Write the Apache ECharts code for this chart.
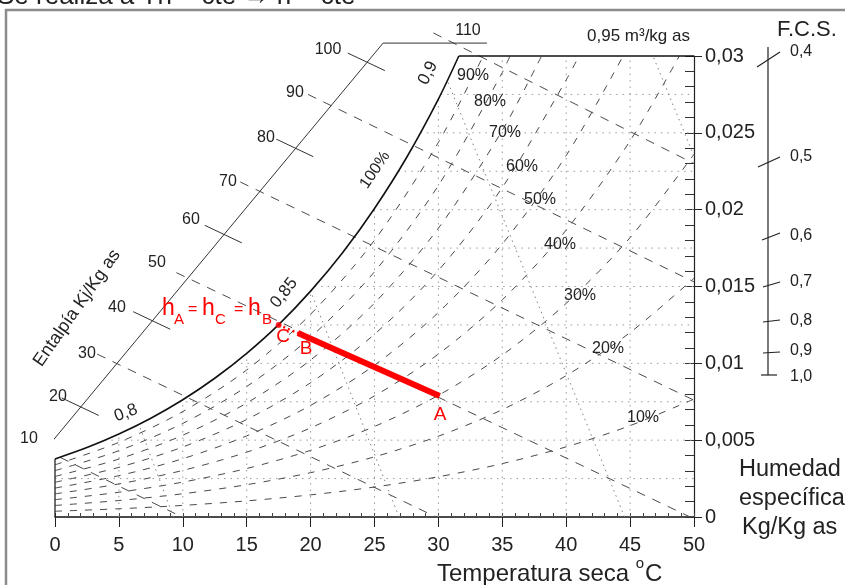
<!DOCTYPE html>
<html><head><meta charset="utf-8">
<script src="https://cdn.jsdelivr.net/npm/echarts/dist/echarts.min.js"></script>
<style>html,body{margin:0;padding:0;background:#fff;overflow:hidden}#c{width:845px;height:585px;}</style>
</head><body><div id="c"></div>
<script>
const FONT = '"Liberation Sans", Arial, Helvetica, sans-serif';

// ---- axes ----
const tempMin = 0, tempMax = 50;
const humMin = 0, humMax = 0.03;

// ---- saturation curve (100 %) ----
const satT = [0, 2.5, 5, 7.5, 10, 12.5, 15, 17.5, 20, 22.5, 25, 27.5, 30, 31.6];
const satW = [0.00378, 0.00452, 0.00540, 0.00643, 0.00763, 0.00903, 0.01065, 0.01252, 0.01470, 0.01720, 0.02008, 0.02338, 0.02720, 0.0300];

// ---- relative humidity curves, sampled every 5 °C ----
const rhT = [0, 5, 10, 15, 20, 25, 30, 35, 40, 45, 50];
const rh10 = [0.000375, 0.000536, 0.000755, 0.001049, 0.001439, 0.001951, 0.002617, 0.003474, 0.004566, 0.005945, 0.007674];
const rh20 = [0.000751, 0.001073, 0.001512, 0.002101, 0.002885, 0.003915, 0.005257, 0.006987, 0.009200, 0.012005, 0.015540];
const rh30 = [0.001128, 0.001611, 0.002270, 0.003157, 0.004338, 0.005891, 0.007919, 0.010540, 0.013902, 0.018183, 0.023605];
const rh40 = [0.001505, 0.002150, 0.003031, 0.004217, 0.005797, 0.007880, 0.010604, 0.014133, 0.018675, 0.024482];
const rh50 = [0.001882, 0.002690, 0.003793, 0.005280, 0.007263, 0.009881, 0.013311, 0.017768, 0.023521];
const rh60 = [0.002260, 0.003231, 0.004557, 0.006347, 0.008736, 0.011895, 0.016042, 0.021444, 0.028440];
const rh70 = [0.002638, 0.003772, 0.005323, 0.007417, 0.010216, 0.013922, 0.018797, 0.025162];
const rh80 = [0.003017, 0.004315, 0.006091, 0.008491, 0.011703, 0.015962, 0.021575, 0.028924];
const rh90 = [0.003396, 0.004859, 0.006860, 0.009569, 0.013197, 0.018015, 0.024378];
const rhCurves = [rh10, rh20, rh30, rh40, rh50, rh60, rh70, rh80, rh90];
// temperature where a curve meets the top edge (0.03); null = reaches 50 °C
const rhTopT = [null, null, null, 48.85, 44.45, 41.0, 38.07, 35.6, 33.5];
const rhLabels = ['10%', '20%', '30%', '40%', '50%', '60%', '70%', '80%', '90%'];

// ---- enthalpy (kJ/kg as) ----
const enthLineH = [10, 30, 50, 70, 90, 110];
const enthStartT = [-0.78, 3.3, 9.5, 14.5, 19.8, 29.6];
const enthStartW = [0.00436, 0.0106, 0.0159, 0.0218, 0.0275, 0.0315];
const enthEndT = [9.94, 29.82, 49.7, 50, 50, 50];
const enthEndW = [0, 0, 0, 0.0076, 0.0153, 0.0230];
const enthTickH = [20, 40, 60, 80, 100];
const enthTickT = [2.02, 7.62, 13.22, 18.81, 24.41];
const enthTickW = [0.00716, 0.01277, 0.01839, 0.02400, 0.02960];
const enthScaleT = [-0.78, 25.67, 33.8];
const enthScaleW = [0.00436, 0.03084, 0.03084];

// ---- specific volume (m3/kg as) ----
const volValues = [0.80, 0.85, 0.90, 0.95];
const volLowT = [9.27, 26.92, 44.57, 50];
const volLowW = [0, 0, 0, 0.0235];
const volHighT = [6.57, 20.0, 30.74, 46.79];
const volHighW = [0.0060, 0.0147, 0.0283, 0.0300];

// ---- dotted grid ----
const gridHumW = [0.0025, 0.005, 0.0075, 0.01, 0.0125, 0.015, 0.0175, 0.02, 0.0225, 0.025, 0.0275];
const gridHumStartT = [0, 3.9, 9.74, 14.04, 17.46, 20.32, 22.77, 24.93, 26.85, 28.59, 30.18];
const gridTempT = [5, 10, 15, 20, 25, 30, 35, 40, 45];
const gridTempTopW = [0.0054, 0.00763, 0.01065, 0.0147, 0.0201, 0.0272, 0.03, 0.03, 0.03];

// ---- process A -> B, C (h = cte) ----
const procNames = ['A', 'B', 'C'];
const procT = [30.1, 19.0, 17.5];
const procW = [0.00787, 0.01197, 0.0125];

// ---- F.C.S. scale labels ----
const fcsLabels = ['0,4', '0,5', '0,6', '0,7', '0,8', '0,9', '1,0'];

const series = [];
function addLine(pts, style, extra) {
  series.push(Object.assign({
    type: 'line', data: pts, symbol: 'none', silent: true, animation: false,
    clip: false, lineStyle: style, z: 2, xAxisIndex: 0, yAxisIndex: 0
  }, extra || {}));
}
const dotted = { color: '#9a9a9a', width: 1, type: [1.5, 5] };
gridHumW.forEach((w, i) => addLine([[gridHumStartT[i], w], [tempMax, w]], dotted, { z: 1 }));
gridTempT.forEach((t, i) => addLine([[t, humMin], [t, gridTempTopW[i]]], dotted, { z: 1 }));

const rhStyle = { color: '#4a4a4a', width: 1, type: [7, 8] };
rhCurves.forEach((arr, i) => {
  const pts = arr.map((w, j) => [rhT[j], w]);
  if (rhTopT[i] !== null) pts.push([rhTopT[i], humMax]);
  addLine(pts, rhStyle, { smooth: 0.3 });
});

const enthStyle = { color: '#4a4a4a', width: 1, type: [9, 8] };
enthLineH.forEach((h, i) => addLine([[enthStartT[i], enthStartW[i]], [enthEndT[i], enthEndW[i]]], enthStyle));
// enthalpy scale
addLine(enthScaleT.map((t, i) => [t, enthScaleW[i]]), { color: '#333', width: 1 });
const slope = -0.000394; // direction of constant-enthalpy lines
enthTickH.forEach((h, i) => {
  const t = enthTickT[i], w = enthTickW[i];
  addLine([[t - 1.5, w - 1.5 * slope], [t + 1.4, w + 1.4 * slope]], { color: '#333', width: 1 });
});

const volStyle = { color: '#808080', width: 1, type: [1.5, 4] };
volValues.forEach((v, i) => addLine([[volLowT[i], volLowW[i]], [volHighT[i], volHighW[i]]], volStyle));

// saturation + frame edges
addLine(satT.map((t, i) => [t, satW[i]]), { color: '#111', width: 1.6 }, { smooth: 0.3, z: 3 });
addLine([[satT[satT.length - 1], humMax], [tempMax, humMax]], { color: '#111', width: 1.4 }, { z: 3 });
addLine([[tempMin, humMin], [tempMin, satW[0]]], { color: '#111', width: 1.2 }, { z: 3 });

// process
addLine([[procT[1], procW[1]], [procT[0], procW[0]]], { color: '#ff0000', width: 6 }, { z: 5 });
addLine([[procT[2], procW[2]], [procT[1], procW[1]]], { color: '#ff0000', width: 2.5, type: [2, 3] }, { z: 5 });
series.push({ type: 'scatter', data: [[procT[2], procW[2]]], symbolSize: 6, itemStyle: { color: '#ff0000' }, silent: true, animation: false, z: 6, xAxisIndex: 0, yAxisIndex: 0 });

const fmt = v => (v === 0 ? '0' : String(+v.toFixed(3)).replace('.', ','));

function T(x, y, text, size, o) {
  o = o || {};
  return {
    type: 'text', x: x, y: y, rotation: o.rot || 0, z: 100,
    style: {
      text: text, x: 0, y: 0, fill: o.color || '#222',
      font: (o.weight || 'normal') + ' ' + size + 'px ' + FONT,
      align: o.align || 'center', textAlign: o.align || 'center',
      verticalAlign: o.va || 'middle', textVerticalAlign: o.va || 'middle'
    }
  };
}
const L = (x1, y1, x2, y2, w) => ({ type: 'line', z: 100, shape: { x1, y1, x2, y2 }, style: { stroke: '#222', lineWidth: w || 1 } });

const g = [];
// frame + cropped heading
g.push({ type: 'rect', z: 0, shape: { x: 6, y: 10, width: 880, height: 620 }, style: { fill: '#fff', stroke: '#8c8c8c', lineWidth: 2.5 } });
g.push(T(-3, 10, 'Se realiza a Th = cte \u2192 h = cte', 26, { align: 'left', va: 'bottom' }));
// RH labels
const rhLabelPos = [[643, 418], [608, 349], [580, 296], [560, 245], [540, 200], [522, 167], [505, 133], [490, 102], [473, 76]];
rhLabels.forEach((s, i) => g.push(T(rhLabelPos[i][0], rhLabelPos[i][1], s, 16)));
g.push(T(375, 170, '100%', 16, { rot: 0.98 }));
// enthalpy labels
const enthLabelPos = [[29, 439], [58, 397], [87, 354], [117, 308], [157, 263], [191, 220], [228, 182], [266, 138], [295, 93], [328, 50], [468, 31]];
const enthLabelVal = [10, 20, 30, 40, 50, 60, 70, 80, 90, 100, 110];
enthLabelVal.forEach((v, i) => g.push(T(enthLabelPos[i][0], enthLabelPos[i][1], String(v), 16)));
g.push(T(77, 308, 'Entalpía Kj/Kg as', 18, { rot: 0.96 }));
// volume labels
g.push(T(126, 413, '0,8', 17, { rot: 0.36 }));
g.push(T(284, 293, '0,85', 17, { rot: 0.9 }));
g.push(T(428, 73, '0,9', 17, { rot: 1.1 }));
g.push(T(587, 36, '0,95 m\u00b3/kg as', 17, { align: 'left' }));
// axis titles
g.push(T(437, 574, 'Temperatura seca', 24, { align: 'left' }));
g.push(T(640, 564, 'o', 15));
g.push(T(645, 574, 'C', 24, { align: 'left' }));
g.push(T(739, 470, 'Humedad', 23.5, { align: 'left' }));
g.push(T(739, 499, 'específica', 23.5, { align: 'left' }));
g.push(T(742, 528, 'Kg/Kg as', 23.5, { align: 'left' }));
// F.C.S. scale
g.push(T(777, 30, 'F.C.S.', 22, { align: 'left' }));
g.push(L(768, 47, 768, 375, 1.2));
const fcsTicks = [[757, 67, 780, 52], [758, 167, 780, 157], [762, 240, 780, 233], [763, 287, 780, 282], [763, 322, 780, 320], [763, 353, 780, 352], [761, 375, 777, 375]];
const fcsLabelY = [52, 157, 236, 282, 321, 351, 377];
fcsTicks.forEach((t, i) => {
  g.push(L(t[0], t[1], t[2], t[3], 1.2));
  g.push(T(790, fcsLabelY[i], fcsLabels[i], 16, { align: 'left' }));
});
// process labels
const RED = '#ff0000';
g.push(T(440, 415, 'A', 19, { color: RED }));
g.push(T(306, 349, 'B', 19, { color: RED }));
g.push(T(283, 337, 'C', 19, { color: RED }));
g.push(T(162, 320, 'h', 23, { align: 'left', va: 'bottom', color: RED }));
g.push(T(174, 327, 'A', 15, { align: 'left', va: 'bottom', color: RED }));
g.push(T(188, 310, '=', 16, { align: 'left', va: 'middle', color: RED }));
g.push(T(202, 320, 'h', 23, { align: 'left', va: 'bottom', color: RED }));
g.push(T(215, 327, 'C', 15, { align: 'left', va: 'bottom', color: RED }));
g.push(T(234, 310, '=', 16, { align: 'left', va: 'middle', color: RED }));
g.push(T(248, 320, 'h', 23, { align: 'left', va: 'bottom', color: RED }));
g.push(T(262, 327, 'B', 15, { align: 'left', va: 'bottom', color: RED }));

const gridBox = { left: 55, right: 151, top: 56, bottom: 68, containLabel: false, outerBoundsMode: 'none' };
const chart = echarts.init(document.getElementById('c'), null, { renderer: 'canvas' });
chart.setOption({
  animation: false,
  backgroundColor: '#fff',
  grid: [Object.assign({}, gridBox), Object.assign({}, gridBox)],
  xAxis: [
    { gridIndex: 0, type: 'value', min: tempMin, max: tempMax, interval: 5, position: 'bottom',
      axisLine: { show: true, onZero: false, lineStyle: { color: '#111', width: 1.5 } },
      axisTick: { show: true, length: 10, lineStyle: { color: '#222', width: 1 } },
      axisLabel: { fontSize: 20, color: '#222', fontFamily: FONT, margin: 18 },
      splitLine: { show: false } },
    { gridIndex: 1, type: 'value', min: tempMin, max: tempMax, interval: 1, position: 'bottom',
      axisLine: { show: false, onZero: false },
      axisTick: { show: true, inside: true, length: 4, lineStyle: { color: '#444', width: 1 } },
      axisLabel: { show: false }, splitLine: { show: false } }
  ],
  yAxis: [
    { gridIndex: 0, type: 'value', min: humMin, max: humMax, interval: 0.005, position: 'right',
      axisLine: { show: true, onZero: false, lineStyle: { color: '#222', width: 1.2 } },
      axisTick: { show: true, length: 8, lineStyle: { color: '#222', width: 1 } },
      axisLabel: { fontSize: 20, color: '#222', fontFamily: FONT, margin: 11, formatter: fmt },
      splitLine: { show: false } },
    { gridIndex: 1, type: 'value', min: humMin, max: humMax, interval: 0.001, position: 'right',
      axisLine: { show: false, onZero: false },
      axisTick: { show: true, inside: true, length: 9, lineStyle: { color: '#333', width: 1 } },
      axisLabel: { show: false }, splitLine: { show: false } }
  ],
  series: series,
  graphic: { elements: g }
});
</script></body></html>
